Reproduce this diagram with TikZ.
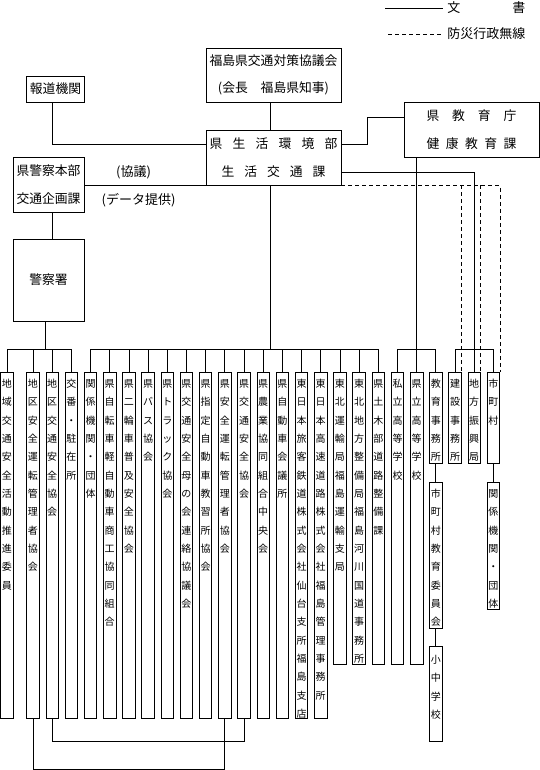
\documentclass[tikz,border=0pt]{standalone}
\usepackage{fontspec}
\setmainfont{Noto Sans CJK JP}

% one character per line, for the upright columns
\newcommand\tatetext[1]{\rule{0pt}{8.8pt}\expandafter\tatefirst#1\relax}
\def\tatefirst#1{\ifx#1\relax\else#1\expandafter\tatenext\fi}
\def\tatenext#1{\ifx#1\relax\else\\#1\expandafter\tatenext\fi}

\begin{document}
\begin{tikzpicture}[x=1pt,y=-1pt,line width=0.8pt,
	box/.style={draw,inner sep=0pt,align=center,font=\fontsize{12.8pt}{27.5pt}\selectfont},
	txt/.style={inner sep=0pt,font=\fontsize{13pt}{16pt}\selectfont},
	colbox/.style={draw,anchor=north,minimum width=12.5pt,inner sep=0pt},
	coltext/.style={anchor=north,yshift=-6.3pt,inner sep=0pt,text width=12pt,align=center,font=\fontsize{10pt}{18.33pt}\selectfont}]
	\useasboundingbox (0,0) rectangle (540,770);

	% legend
	\node[txt,anchor=west] (lgbun) at (447,8) {\makebox[78pt][s]{文 書}};
	\node[txt,anchor=west] (lgmusen) at (447,34) {防災行政無線};
	\coordinate (lgA) at (385,8);
	\coordinate (lgB) at (388,34);
	\draw (lgA) -- ([xshift=-4pt]lgbun.west);
	\draw[dash pattern=on 4pt off 3pt] (lgB) -- ([xshift=-4pt]lgmusen.west);

	% upper boxes
	\node[box,minimum width=135pt,minimum height=54pt] (kyogikai) at (273.5,75) {福島県交通対策協議会\\(会長　福島県知事)};
	\node[box,minimum width=57.5pt,minimum height=26pt] (houdou) at (55.5,89) {報道機関};
	\node[box,minimum width=135pt,minimum height=55pt] (seikatsu) at (273.5,157.5) {\makebox[128pt][s]{県 生 活 環 境 部}\\\makebox[104pt][s]{生 活 交 通 課}};
	\node[box,minimum width=135pt,minimum height=55pt] (kyoikucho) at (471.5,129.5) {\makebox[90pt][s]{県 教 育 庁}\\\makebox[90pt][s]{健 康 教 育 課}};
	\node[box,minimum width=71pt,minimum height=55pt] (kenkei) at (48.5,184.5) {県警察本部\\交通企画課};
	\node[box,minimum width=71pt,minimum height=82pt] (keisatsusho) at (48.5,280) {\raisebox{-5pt}{警察署}};
	\node[txt] (kyogi) at (133.5,172) {(協議)};
	\node[txt] (deta) at (138.5,200) {(データ提供)};

	% columns
	\coordinate (bus) at (0,349);
	\foreach \col/\xc/\hgt/\txt in {
		1/7/346/地域交通安全活動推進委員,
		2/33.0/346/地区安全運転管理者協会,
		3/52.2/346/地区交通安全協会,
		4/71.4/346/交番・駐在所,
		5/90.5/346/関係機関・団体,
		6/109.7/346/県自転車軽自動車商工協同組合,
		7/128.9/346/県二輪車普及安全協会,
		8/148.1/346/県バス協会,
		9/167.3/346/県トラック協会,
		10/186.4/346/県交通安全母の会連絡協議会,
		11/205.6/346/県指定自動車教習所協会,
		12/224.8/346/県安全運転管理者協会,
		13/244.0/346/県交通安全協会,
		14/263.2/346/県農業協同組合中央会,
		15/282.4/346/県自動車会議所,
		16/301.6/346/東日本旅客鉄道株式会社仙台支所福島支店,
		17/320.7/346/東日本高速道路株式会社福島管理事務所,
		18/339.9/292/東北運輸局福島運輸支局,
		19/359.1/292/東北地方整備局福島河川国道事務所,
		20/378.3/292/県土木部道路整備課,
		21/397.5/292/私立高等学校,
		22/416.7/292/県立高等学校,
		23/435.8/91/教育事務所,
		24/455.0/91/建設事務所,
		25/474.2/91/地方振興局,
		26/493.4/91/市町村}
		\node[colbox,minimum height=\hgt pt,label={[coltext]north:{\tatetext{\txt}}}] (c\col) at (\xc,372) {};
	\node[colbox,minimum height=146pt,label={[coltext]north:{\tatetext{市町村教育委員会}}}] (ikyoi) at (435.8,482) {};
	\node[colbox,minimum height=95pt,label={[coltext,yshift=-2pt]north:{\tatetext{小中学校}}}] (shochu) at (435.8,646) {};
	\node[colbox,minimum height=127pt,label={[coltext]north:{\tatetext{関係機関・団体}}}] (kankei) at (493.4,482) {};

	% police side
	\draw ([xshift=3.8pt]kenkei.south) -- ([xshift=3.8pt]keisatsusho.north);
	\coordinate (kdrop) at ([xshift=-2.8pt]keisatsusho.south);
	\draw (kdrop) -- (kdrop |- bus);
	\draw (c1.north) |- (c4.north |- bus) -- (c4.north);
	\foreach \col in {2,3}
		\draw (c\col.north) -- (c\col.north |- bus);
	\draw (seikatsu.south west -| kenkei.east) -- (seikatsu.south west);

	% centre
	\draw ([xshift=-2.8pt]kyogikai.south) -- ([xshift=-2.8pt]seikatsu.north);
	\draw ([xshift=-3.2pt]houdou.south) |- ([yshift=13.5pt]seikatsu.west);
	\coordinate (sdrop) at ([xshift=-2.8pt]seikatsu.south);
	\draw (sdrop) -- (sdrop |- bus);
	\draw (c5.north) |- (c20.north |- bus) -- (c20.north);
	\foreach \col in {6,...,19}
		\draw (c\col.north) -- (c\col.north |- bus);

	% education and towns
	\draw ([yshift=13.5pt]seikatsu.east) -- ++(26,0) |- ([yshift=12.5pt]kyoikucho.west);
	\draw (kyoikucho.south -| c22.north) -- (c22.north);
	\draw (c21.north) |- (c23.north |- bus) -- (c23.north);
	\draw ([yshift=-14.5pt]seikatsu.east) -| (c25.north);
	\draw (c24.north) |- (c26.north |- bus) -- (c26.north);
	\draw[dash pattern=on 4pt off 3pt] (seikatsu.south east) -| (c26.north east);
	\foreach \col in {24,25}
		\draw[dash pattern=on 4pt off 3pt] (seikatsu.south east -| c\col.north east) -- (c\col.north east);
	\draw (c23.south) -- (ikyoi.north);
	\draw (ikyoi.south) -- (shochu.north);
	\draw (c26.south) -- (kankei.north);

	% bottom links
	\draw (c3.south) -- ++(0,23) -| (c13.south);
	\draw (c2.south) -- ++(0,51) -| (c12.south);
\end{tikzpicture}
\end{document}
